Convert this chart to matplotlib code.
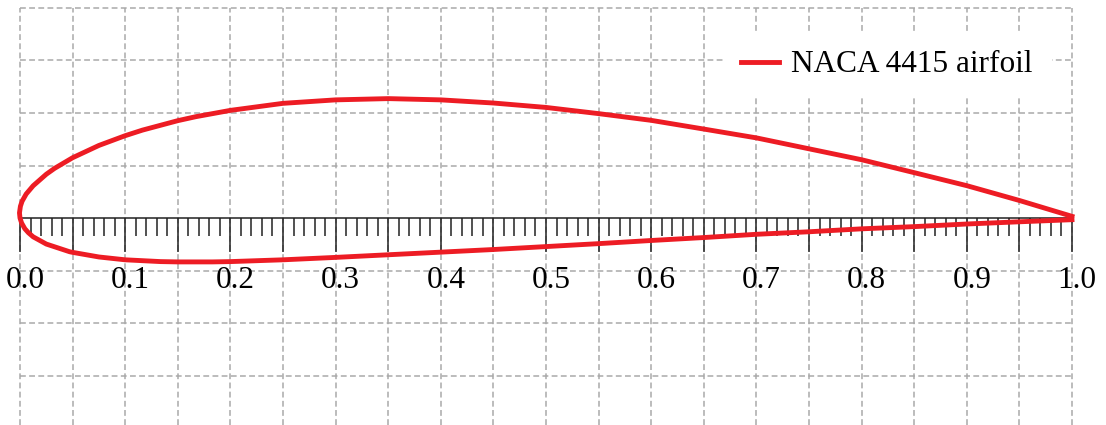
import numpy as np
import matplotlib
matplotlib.use("Agg")
import matplotlib.pyplot as plt
import matplotlib.transforms as mtransforms

# NACA 4415 coordinates (upper surface TE -> LE, lower LE -> TE)
upper_x = [1.0000, 0.9500, 0.9000, 0.8500, 0.8000, 0.7500, 0.7000, 0.6500, 0.6000,
           0.5500, 0.5000, 0.4500, 0.4000, 0.3500, 0.3000, 0.2500, 0.2000, 0.1672,
           0.1500, 0.1164, 0.1000, 0.0750, 0.0500, 0.0329, 0.0250, 0.0125, 0.0059,
           0.0020, 0.0004, -0.0005, 0.0000]
upper_y = [0.0016, 0.0167, 0.0308, 0.0432, 0.0555, 0.0659, 0.0763, 0.0847, 0.0930,
           0.0994, 0.1053, 0.1095, 0.1125, 0.1137, 0.1125, 0.1092, 0.1025, 0.0965,
           0.0927, 0.0837, 0.0784, 0.0691, 0.0574, 0.0473, 0.0417, 0.0307, 0.0229,
           0.0160, 0.0112, 0.0049, 0.0000]
lower_x = [0.0000, 0.0015, 0.0046, 0.0080, 0.0125, 0.0250, 0.0471, 0.0500, 0.0750,
           0.1000, 0.1336, 0.1500, 0.1828, 0.2000, 0.2500, 0.3000, 0.3500, 0.4000,
           0.4500, 0.5000, 0.5500, 0.6000, 0.6500, 0.7000, 0.7500, 0.8000, 0.8500,
           0.9000, 0.9500, 1.0000]
lower_y = [0.0000, -0.0047, -0.0102, -0.0140, -0.0179, -0.0248, -0.0321, -0.0327, -0.0371,
           -0.0398, -0.0415, -0.0418, -0.0418, -0.0415, -0.0398, -0.0375, -0.0350, -0.0325,
           -0.0300, -0.0272, -0.0244, -0.0214, -0.0186, -0.0155, -0.0131, -0.0103, -0.0082,
           -0.0057, -0.0036, -0.0016]

tick_pos = [0.0, 0.05, 0.1, 0.15, 0.2, 0.25, 0.3, 0.35, 0.4, 0.45, 0.5,
            0.55, 0.6, 0.65, 0.7, 0.75, 0.8, 0.85, 0.9, 0.95, 1.0]
tick_labels = ['0.0', '', '0.1', '', '0.2', '', '0.3', '', '0.4', '', '0.5',
               '', '0.6', '', '0.7', '', '0.8', '', '0.9', '', '1.0']
grid_y = [-0.15, -0.10, -0.05, 0.05, 0.10, 0.15, 0.20]

red = '#ed1c24'
serif = ['Liberation Serif', 'DejaVu Serif']

fig = plt.figure(figsize=(11.06, 4.25), dpi=100)
ax = fig.add_axes([0, 0, 1, 1])
ax.set_xlim(-0.01901, 1.03232)
ax.set_ylim(-0.1971, 0.2076)

# dashed grid limited to the [0, 1] x [.., 0.2] box
grid_kw = dict(color='#a9a9a9', linewidth=1.1, linestyle=(0, (3.8, 2.2)), zorder=0)
ax.vlines(tick_pos, -0.1971, 0.20, **grid_kw)
ax.hlines(grid_y, 0.0, 1.0, **grid_kw)

x_all = upper_x + lower_x[1:]
y_all = upper_y + lower_y[1:]
ax.plot(x_all, y_all, color=red, linewidth=3.5, solid_joinstyle='round',
        label='NACA 4415 airfoil', zorder=3)

# x axis through y = 0 with ticks pointing down
for s in ['top', 'right', 'left']:
    ax.spines[s].set_visible(False)
ax.spines['bottom'].set_position(('data', 0))
ax.spines['bottom'].set_bounds(0, 1)
ax.spines['bottom'].set_linewidth(1.1)
ax.spines['bottom'].set_color('#222222')
ax.spines['bottom'].set_zorder(2)

ax.set_xticks(tick_pos)
ax.set_xticklabels(tick_labels, fontfamily=serif, fontsize=22.5)
ax.set_xticks(np.arange(0, 1.0001, 0.01), minor=True)
ax.tick_params(axis='x', which='major', direction='out', length=24.5, width=1.1,
               color='#222222', pad=10)
ax.tick_params(axis='x', which='minor', direction='out', length=13, width=1.1,
               color='#222222')
ax.set_yticks([])

# labels in the reference sit a few pixels right of their ticks
shift = mtransforms.ScaledTranslation(5 / 100, 0, fig.dpi_scale_trans)
for lbl in ax.get_xticklabels():
    lbl.set_transform(lbl.get_transform() + shift)

leg = ax.legend(loc='center', bbox_to_anchor=(887 / 1106, 1 - 65 / 425),
                prop={'family': serif, 'size': 22.5}, handlelength=1.2,
                handletextpad=0.4, borderpad=0.6, fancybox=False,
                framealpha=1, edgecolor='none', facecolor='white')
leg.set_zorder(5)

fig.savefig('out.png', dpi=100)
